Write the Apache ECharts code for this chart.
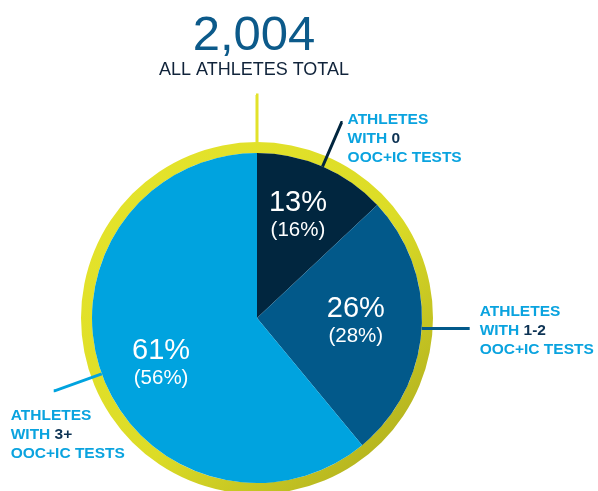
<!DOCTYPE html>
<html>
<head>
<meta charset="utf-8">
<script src="https://cdn.jsdelivr.net/npm/echarts@6/dist/echarts.min.js"></script>
<style>
html, body { margin: 0; padding: 0; background: #fff; }
#main { width: 598px; height: 491px; }
</style>
</head>
<body>
<div id="main"></div>
<script>
// 数据：各组运动员占比（括号内为上一期）
var categories = ['0', '1-2', '3+'];
var shareNow = [13, 26, 61];
var sharePrev = [16, 28, 56];
var totalAthletes = [2004];
var totalLabel = ['ALL ATHLETES TOTAL'];

var sliceColors = ['#01263f', '#02598a', '#00a3df'];
var cyan = '#0aa3df';
var navyText = '#0d3354';
var ringGreen = '#e2e22a';
var font = 'Liberation Sans, Arial, sans-serif';

var center = [257, 318];
var pieR = 165;

// 标签相对引线末端的偏移
var outsideShift = [[5, -12], [10, -26], [-43, 15]];
var insideShift = [[0, -8], [-4, -3], [1, 10]];
var lineLen = [{length: 48, length2: 1}, {length: 1, length2: 47}, {length: 50, length2: 1}];

var chart = echarts.init(document.getElementById('main'));

var mainData = [];
var insideData = [];
for (var i = 0; i < categories.length; i++) {
    mainData.push({
        name: categories[i],
        value: shareNow[i],
        itemStyle: {color: sliceColors[i]},
        labelLine: {
            length: lineLen[i].length,
            length2: lineLen[i].length2,
            lineStyle: {color: sliceColors[i], width: 3}
        }
    });
    insideData.push({name: categories[i], value: shareNow[i]});
}

function fmtNum(v) {
    return String(v).replace(/\B(?=(\d{3})+(?!\d))/g, ',');
}

var option = {
    animation: false,
    backgroundColor: '#fff',
    series: [
        // 外圈黄绿色环
        {
            type: 'pie',
            z: 2,
            silent: true,
            center: center,
            radius: [pieR, pieR + 11],
            startAngle: 270,
            avoidLabelOverlap: false,
            emphasis: {disabled: true},
            itemStyle: {
                color: new echarts.graphic.LinearGradient(0, 0, 1, 1, [
                    {offset: 0, color: '#e6e52c'},
                    {offset: 0.55, color: '#dcdc27'},
                    {offset: 1, color: '#a6a51c'}
                ])
            },
            label: {
                show: true,
                formatter: function (p) {
                    return '{big|' + fmtNum(p.value) + '}\n{small|' + p.name + '}';
                },
                rich: {
                    big: {fontSize: 49, lineHeight: 48, color: '#0c5a8a', fontFamily: font},
                    small: {fontSize: 18, lineHeight: 20, color: '#10233a', fontFamily: font}
                }
            },
            labelLine: {
                show: true,
                length: 47,
                length2: 1,
                lineStyle: {color: ringGreen, width: 3}
            },
            labelLayout: function (p) {
                var pts = p.labelLinePoints;
                var end = pts[1];
                return {
                    x: end[0] - 3,
                    y: end[1] - 15,
                    align: 'center',
                    verticalAlign: 'bottom',
                    labelLinePoints: pts
                };
            },
            data: [{name: totalLabel[0], value: totalAthletes[0]}]
        },
        // 主饼图 + 外部标签
        {
            type: 'pie',
            z: 3,
            silent: true,
            center: center,
            radius: [0, pieR],
            startAngle: 90,
            clockwise: true,
            avoidLabelOverlap: false,
            emphasis: {disabled: true},
            label: {
                show: true,
                position: 'outside',
                formatter: function (p) {
                    return '{c|ATHLETES}\n{c|WITH }{d|' + p.name + '}\n{c|OOC+IC TESTS}';
                },
                rich: {
                    c: {fontSize: 15.5, lineHeight: 19, fontWeight: 'bold', color: cyan, fontFamily: font},
                    d: {fontSize: 15.5, lineHeight: 19, fontWeight: 'bold', color: navyText, fontFamily: font}
                }
            },
            labelLine: {show: true, smooth: false},
            labelLayout: function (p) {
                var pts = p.labelLinePoints;
                var end = pts[pts.length - 1];
                var s = outsideShift[p.dataIndex];
                return {
                    x: end[0] + s[0],
                    y: end[1] + s[1],
                    align: 'left',
                    verticalAlign: 'top',
                    labelLinePoints: pts
                };
            },
            data: mainData
        },
        // 饼内百分比标签
        {
            type: 'pie',
            z: 4,
            silent: true,
            center: center,
            radius: [0, 200],
            startAngle: 90,
            clockwise: true,
            emphasis: {disabled: true},
            itemStyle: {color: 'rgba(0,0,0,0)'},
            label: {
                show: true,
                position: 'inside',
                formatter: function (p) {
                    return '{a|' + shareNow[p.dataIndex] + '%}\n{b|(' + sharePrev[p.dataIndex] + '%)}';
                },
                rich: {
                    a: {fontSize: 29, lineHeight: 30, color: '#fff', fontFamily: font},
                    b: {fontSize: 20.5, lineHeight: 24, color: '#fff', fontFamily: font}
                }
            },
            labelLine: {show: false},
            labelLayout: function (p) {
                var s = insideShift[p.dataIndex];
                return {dx: s[0], dy: s[1]};
            },
            data: insideData
        }
    ]
};

chart.setOption(option);
</script>
</body>
</html>
